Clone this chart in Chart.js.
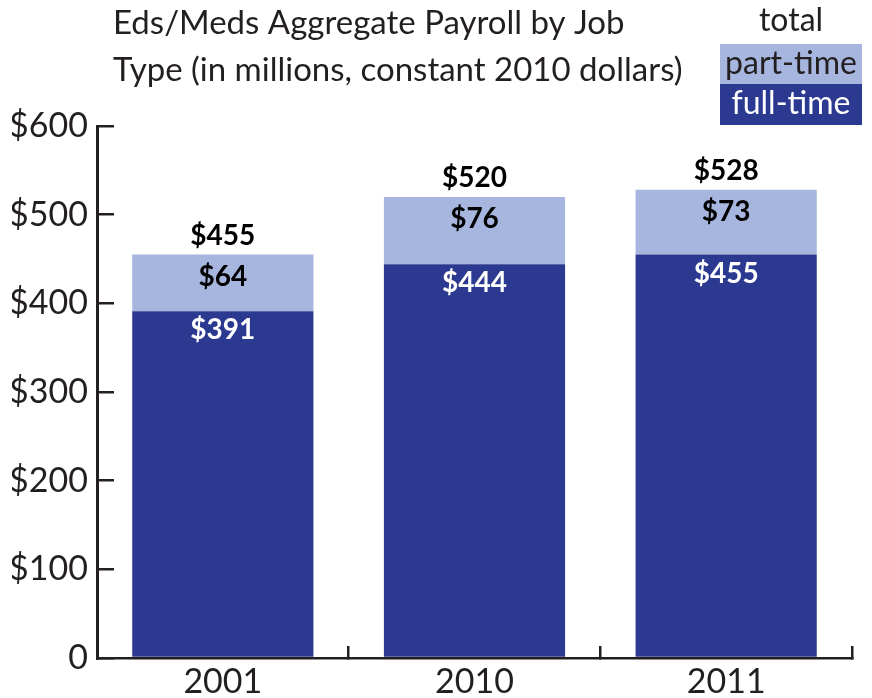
<!DOCTYPE html>
<html>
<head>
<meta charset="utf-8">
<script src="https://cdn.jsdelivr.net/npm/chart.js@4/dist/chart.umd.min.js"></script>
<style>
  html, body { margin: 0; padding: 0; background: #fff; overflow: hidden; }
  #wrap { width: 872px; height: 698px; }
  canvas { display: block; }
</style>
</head>
<body>
<div id="wrap"><canvas id="payChart" width="872" height="698"></canvas></div>
<script>
const years = ['2001', '2010', '2011'];
const fullTime = [391, 444, 455];
const partTime = [64, 76, 73];
const totals = [455, 520, 528];
const yTicks = [0, 100, 200, 300, 400, 500, 600];

const titleLines = ['Eds/Meds Aggregate Payroll by Job', 'Type (in millions, constant 2010 dollars)'];
const ink = '#231f20';
const fullColor = '#2b3990';
const partColor = '#a7b6de';
const fontFamily = 'Lato, "Open Sans", sans-serif';

// value labels on the bars + total above
const barLabels = {
    id: 'barLabels',
    afterDatasetsDraw(chart) {
        const ctx = chart.ctx;
        const fullMeta = chart.getDatasetMeta(0);
        const partMeta = chart.getDatasetMeta(1);
        ctx.save();
        ctx.font = 'bold 28px ' + fontFamily;
        ctx.textAlign = 'center';
        ctx.textBaseline = 'middle';
        fullMeta.data.forEach((bar, i) => {
            ctx.fillStyle = '#fff';
            ctx.fillText('$' + fullTime[i], bar.x, bar.y + 19);
        });
        partMeta.data.forEach((bar, i) => {
            ctx.fillStyle = '#000';
            ctx.fillText('$' + partTime[i], bar.x, bar.y + 22);
            ctx.fillText('$' + totals[i], bar.x, bar.y - 19);
        });
        ctx.restore();
    }
};

// title and the boxed legend at the top
const header = {
    id: 'header',
    afterDraw(chart) {
        const ctx = chart.ctx;
        ctx.save();
        ctx.fillStyle = ink;
        ctx.font = '33px ' + fontFamily;
        ctx.textAlign = 'left';
        ctx.textBaseline = 'middle';
        ctx.fillText(titleLines[0], 113, 23);
        ctx.fillText(titleLines[1], 113, 70);

        const lx = 720, lw = 142;
        ctx.fillStyle = partColor;
        ctx.fillRect(lx, 44, lw, 40);
        ctx.fillStyle = fullColor;
        ctx.fillRect(lx, 84, lw, 41);
        ctx.font = '32px ' + fontFamily;
        ctx.textAlign = 'center';
        ctx.fillStyle = ink;
        ctx.fillText('total', lx + lw / 2, 21);
        ctx.fillText(chart.data.datasets[1].label, lx + lw / 2, 64);
        ctx.fillStyle = '#fff';
        ctx.fillText(chart.data.datasets[0].label, lx + lw / 2, 104);
        ctx.restore();
    }
};

const ctx = document.getElementById('payChart').getContext('2d');
new Chart(ctx, {
    type: 'bar',
    data: {
        labels: years,
        datasets: [{
            label: 'full-time',
            data: fullTime,
            backgroundColor: fullColor,
            borderWidth: 0,
            barPercentage: 0.72,
            categoryPercentage: 1
        }, {
            label: 'part-time',
            data: partTime,
            backgroundColor: partColor,
            borderWidth: 0,
            barPercentage: 0.72,
            categoryPercentage: 1
        }]
    },
    options: {
        responsive: false,
        animation: false,
        layout: {
            padding: { top: 126, left: 12, right: 20, bottom: 0 }
        },
        plugins: {
            legend: { display: false },
            title: { display: false },
            tooltip: { enabled: false }
        },
        scales: {
            x: {
                stacked: true,
                afterFit: (scale) => {
                    scale.height = 40;
                    scale.paddingLeft = 0;
                    scale.paddingRight = 0;
                },
                grid: {
                    offset: true,
                    drawOnChartArea: false,
                    tickLength: -12,
                    color: ink,
                    lineWidth: 2.5
                },
                border: { color: ink, width: 2.5 },
                ticks: {
                    color: ink,
                    padding: 16,
                    font: { family: fontFamily, size: 34 }
                }
            },
            y: {
                stacked: true,
                min: 0,
                max: 600,
                afterFit: (scale) => {
                    scale.width = 85;
                    scale.paddingTop = 0;
                    scale.paddingBottom = 0;
                },
                afterBuildTicks: (scale) => {
                    scale.ticks = yTicks.map(v => ({ value: v }));
                },
                grid: {
                    drawOnChartArea: false,
                    tickLength: -17,
                    color: ink,
                    lineWidth: 2.5
                },
                border: { color: ink, width: 3 },
                ticks: {
                    color: ink,
                    padding: 26,
                    font: { family: fontFamily, size: 34 },
                    callback: (v) => v === 0 ? '0' : '$' + v
                }
            }
        }
    },
    plugins: [barLabels, header]
});
</script>
</body>
</html>
